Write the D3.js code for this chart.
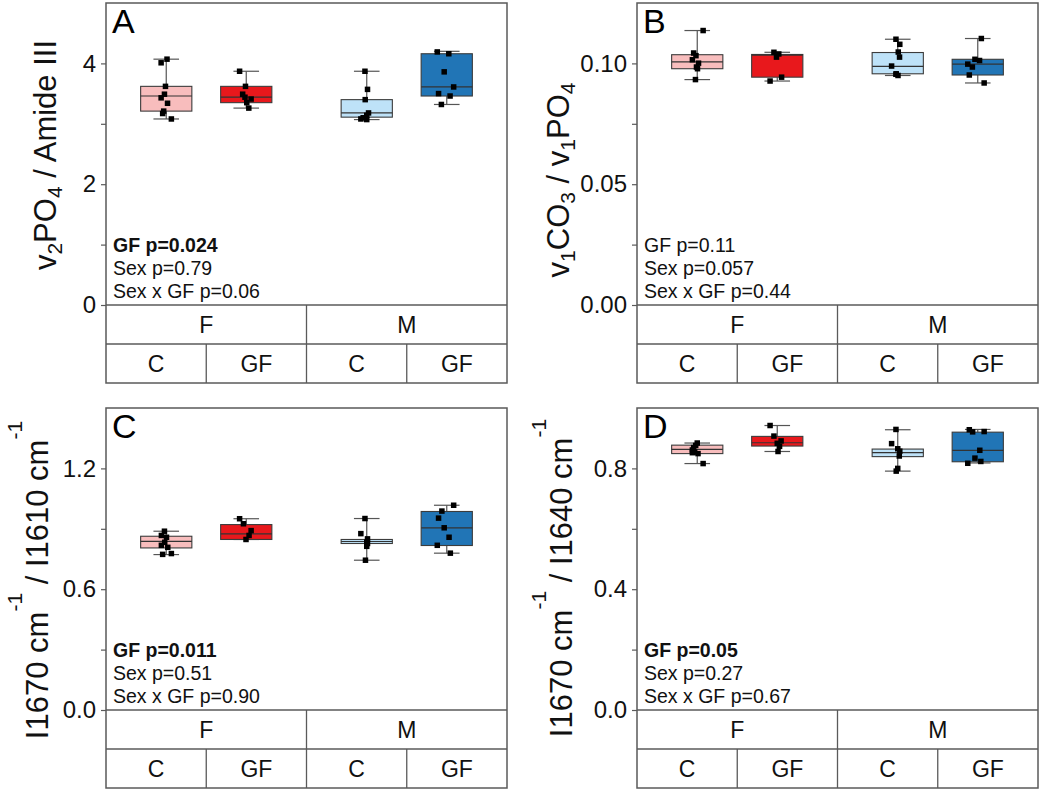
<!DOCTYPE html>
<html><head><meta charset="utf-8">
<script src="https://cdn.jsdelivr.net/npm/d3@7"></script>
<style>
html,body{margin:0;padding:0;background:#fff;}
svg{display:block;font-family:"Liberation Sans",Arial,sans-serif;}
</style></head>
<body><svg id="chart" width="1043" height="792"></svg>
<script>
// ---------- data ----------
const sexes = ["F", "M"];
const groups = ["C", "GF"];
const seriesKeys = ["F-C", "F-GF", "M-C", "M-GF"];
const seriesColors = ["#f8bdbd", "#e8181c", "#bee2f8", "#2175b6"];

// Panel A : v2PO4 / Amide III
const A_points = [
  [4.07, 4.01, 3.62, 3.49, 3.43, 3.34, 3.21, 3.17, 3.08],
  [3.87, 3.62, 3.49, 3.44, 3.41, 3.35, 3.26],
  [3.87, 3.57, 3.40, 3.18, 3.14, 3.10, 3.07, 3.08],
  [4.19, 4.16, 3.86, 3.61, 3.50, 3.46, 3.32]
];
const A_jitter = [
  [0.03, -0.2, -0.03, -0.07, -0.2, 0.05, -0.1, -0.14, 0.2],
  [-0.26, -0.03, -0.14, -0.05, 0.19, 0.02, 0.1],
  [-0.07, 0.03, -0.06, 0.07, 0, -0.14, 0, -0.23],
  [-0.37, 0.08, -0.1, 0.27, -0.32, 0.13, -0.21]
];
// [whisker low, q1, median, q3, whisker high]
const A_stats = [
  [3.08, 3.21, 3.46, 3.62, 4.07],
  [3.26, 3.35, 3.44, 3.62, 3.87],
  [3.07, 3.11, 3.18, 3.40, 3.87],
  [3.32, 3.46, 3.61, 4.16, 4.20]
];
const A_ticks = [0, 2, 4];
const A_minor = [1, 3];
const A_tickLabels = ["0", "2", "4"];
const A_domain = [0, 5];
const A_pvalues = ["GF p=0.024", "Sex p=0.79", "Sex x GF p=0.06"];
const A_bold = [true, false, false];

// Panel B : v1CO3 / v1PO4
const B_points = [
  [0.1136, 0.1043, 0.1032, 0.1015, 0.1001, 0.0985, 0.0978, 0.0933],
  [0.1046, 0.1039, 0.1026, 0.0943, 0.0927],
  [0.1100, 0.1079, 0.1047, 0.1026, 0.0989, 0.0957, 0.0955, 0.0950],
  [0.1103, 0.1017, 0.1012, 0.0997, 0.0985, 0.0952, 0.0919]
];
const B_jitter = [
  [0.23, -0.14, -0.05, -0.19, 0.05, -0.03, 0.01, -0.07],
  [-0.13, 0.06, -0.03, 0.17, -0.28],
  [-0.07, 0.08, 0.02, 0.07, -0.24, -0.06, -0.07, 0.01],
  [0.14, -0.11, 0.07, -0.39, -0.21, -0.33, 0.25]
];
const B_stats = [
  [0.0933, 0.0978, 0.1006, 0.1036, 0.1136],
  [0.0927, 0.0943, 0.1034, 0.1037, 0.1046],
  [0.0950, 0.0957, 0.0988, 0.1045, 0.1100],
  [0.0919, 0.0952, 0.0997, 0.1017, 0.1103]
];
const B_ticks = [0, 0.05, 0.10];
const B_minor = [0.025, 0.075];
const B_tickLabels = ["0.00", "0.05", "0.10"];
const B_domain = [0, 0.125];
const B_pvalues = ["GF p=0.11", "Sex p=0.057", "Sex x GF p=0.44"];
const B_bold = [false, false, false];

// Panel C : I1670 / I1610
const C_points = [
  [0.888, 0.867, 0.858, 0.833, 0.818, 0.808, 0.773, 0.777],
  [0.950, 0.925, 0.891, 0.867, 0.847],
  [0.951, 0.876, 0.850, 0.833, 0.827, 0.813, 0.744],
  [1.017, 0.988, 0.953, 0.905, 0.858, 0.818, 0.779]
];
const C_jitter = [
  [-0.07, -0.19, 0.01, -0.06, -0.19, 0.06, -0.14, 0.2],
  [-0.26, -0.11, 0.19, 0.11, -0.01],
  [-0.07, -0.23, 0.03, 0, 0.03, 0, -0.05],
  [0.27, -0.19, -0.32, -0.1, 0.09, -0.37, 0.14]
];
const C_stats = [
  [0.772, 0.805, 0.838, 0.863, 0.888],
  [0.847, 0.847, 0.875, 0.921, 0.950],
  [0.744, 0.827, 0.837, 0.847, 0.951],
  [0.779, 0.817, 0.905, 0.986, 1.017]
];
const C_ticks = [0, 0.6, 1.2];
const C_minor = [0.3, 0.9];
const C_tickLabels = ["0.0", "0.6", "1.2"];
const C_domain = [0, 1.5];
const C_pvalues = ["GF p=0.011", "Sex p=0.51", "Sex x GF p=0.90"];
const C_bold = [true, false, false];

// Panel D : I1670 / I1640
const D_points = [
  [0.884, 0.876, 0.869, 0.861, 0.854, 0.849, 0.852, 0.816],
  [0.942, 0.907, 0.891, 0.883, 0.873, 0.856],
  [0.929, 0.882, 0.865, 0.857, 0.841, 0.800, 0.791],
  [0.928, 0.921, 0.922, 0.860, 0.834, 0.823, 0.817]
];
const D_jitter = [
  [0, -0.06, -0.14, -0.19, -0.1, 0.03, -0.19, 0.23],
  [-0.28, -0.13, 0.15, 0, 0.09, 0.03],
  [-0.07, -0.24, 0, 0.08, 0.06, 0, -0.06],
  [-0.33, -0.2, 0.25, 0.08, -0.11, 0.12, -0.39]
];
const D_stats = [
  [0.816, 0.849, 0.863, 0.877, 0.884],
  [0.856, 0.874, 0.885, 0.906, 0.942],
  [0.791, 0.839, 0.852, 0.864, 0.928],
  [0.818, 0.822, 0.860, 0.920, 0.929]
];
const D_ticks = [0, 0.4, 0.8];
const D_minor = [0.2, 0.6];
const D_tickLabels = ["0.0", "0.4", "0.8"];
const D_domain = [0, 1.0];
const D_pvalues = ["GF p=0.05", "Sex p=0.27", "Sex x GF p=0.67"];
const D_bold = [true, false, false];

// y-axis titles: [text, kind] kind: n normal, sub, sup
const A_title = [["v","n"],["2","sub"],["PO","n"],["4","sub"],[" / Amide III","n"]];
const B_title = [["v","n"],["1","sub"],["CO","n"],["3","sub"],[" / v","n"],["1","sub"],["PO","n"],["4","sub"]];
const C_title = [["I1670  cm","n"],["-1","sup"],[" / I1610 cm","n"],["-1","sup"]];
const D_title = [["I1670 cm","n"],["-1","sup"],[" / I1640 cm","n"],["-1","sup"]];

const panels = [
  {id:"A", pts:A_points, jit:A_jitter, st:A_stats, ticks:A_ticks, minor:A_minor, tl:A_tickLabels, dom:A_domain, pv:A_pvalues, bold:A_bold, title:A_title},
  {id:"B", pts:B_points, jit:B_jitter, st:B_stats, ticks:B_ticks, minor:B_minor, tl:B_tickLabels, dom:B_domain, pv:B_pvalues, bold:B_bold, title:B_title},
  {id:"C", pts:C_points, jit:C_jitter, st:C_stats, ticks:C_ticks, minor:C_minor, tl:C_tickLabels, dom:C_domain, pv:C_pvalues, bold:C_bold, title:C_title},
  {id:"D", pts:D_points, jit:D_jitter, st:D_stats, ticks:D_ticks, minor:D_minor, tl:D_tickLabels, dom:D_domain, pv:D_pvalues, bold:D_bold, title:D_title}
];

// ---------- layout ----------
const lefts = [106, 637], tops = [3, 408];
const W = 401, plotH = 302, rowH = 39;
const titleLayout = {A:{x:56, y:155}, B:{x:569, y:180}, C:{x:48, y:580}, D:{x:572, y:578}};
const titleSize = 31;
const lineColor = "#5a5a5a";
const svg = d3.select("#chart");

panels.forEach((p, i) => {
  const x0 = lefts[i % 2], y0 = tops[Math.floor(i / 2)];
  const g = svg.append("g").attr("transform", `translate(${x0},${y0})`);
  const y = d3.scaleLinear().domain(p.dom).range([plotH, 0]);
  const xs = d3.scaleBand().domain(sexes).range([0, W]);
  const xc = d3.scaleBand().domain(groups).range([0, xs.bandwidth()]);
  const xg = d3.scalePoint().domain(groups).range([0, xs.bandwidth()]).padding(0.753);
  const step = xg.step();
  const boxW = step * 0.64, capW = boxW * 0.5;

  // frame
  const totalH = plotH + 2 * rowH;
  g.append("rect").attr("x", 0).attr("y", 0).attr("width", W).attr("height", totalH)
    .attr("fill", "none").attr("stroke", lineColor).attr("stroke-width", 1.5);
  g.append("line").attr("x1", 0).attr("x2", W).attr("y1", plotH).attr("y2", plotH)
    .attr("stroke", lineColor).attr("stroke-width", 1.3);
  g.append("line").attr("x1", 0).attr("x2", W).attr("y1", plotH + rowH).attr("y2", plotH + rowH)
    .attr("stroke", lineColor).attr("stroke-width", 1.3);
  g.append("line").attr("x1", xs("M")).attr("x2", xs("M")).attr("y1", plotH).attr("y2", totalH)
    .attr("stroke", lineColor).attr("stroke-width", 1.3);
  sexes.forEach(s => {
    const xx = xs(s) + xc("GF");
    g.append("line").attr("x1", xx).attr("x2", xx).attr("y1", plotH + rowH).attr("y2", totalH)
      .attr("stroke", lineColor).attr("stroke-width", 1.3);
  });

  // y axis
  const axis = d3.axisLeft(y).tickValues(p.ticks).tickSize(5).tickPadding(5)
    .tickFormat((d, k) => p.tl[k]);
  const ag = g.append("g").call(axis);
  ag.select(".domain").remove();
  ag.selectAll(".tick line").attr("stroke", lineColor).attr("stroke-width", 1.2);
  ag.selectAll(".tick text").attr("font-size", 24).attr("fill", "#111")
    .attr("font-family", '"Liberation Sans",Arial,sans-serif');
  const mg = g.append("g").call(d3.axisLeft(y).tickValues(p.minor).tickSize(5).tickFormat(""));
  mg.select(".domain").remove();
  mg.selectAll(".tick line").attr("stroke", lineColor).attr("stroke-width", 1.2);

  // category labels
  sexes.forEach(s => {
    g.append("text").attr("x", xs(s) + xs.bandwidth() / 2).attr("y", plotH + rowH / 2)
      .attr("dy", "0.36em").attr("text-anchor", "middle").attr("font-size", 23).attr("fill", "#111").text(s);
    groups.forEach(gr => {
      g.append("text").attr("x", xs(s) + xc(gr) + xc.bandwidth() / 2).attr("y", plotH + rowH * 1.5)
        .attr("dy", "0.36em").attr("text-anchor", "middle").attr("font-size", 23).attr("fill", "#111").text(gr);
    });
  });

  // boxes
  seriesKeys.forEach((key, k) => {
    const [sx, gr] = key.split("-");
    const cx = xs(sx) + xg(gr);
    const [wlo, q1, med, q3, whi] = p.st[k];
    const bg = g.append("g");
    bg.append("line").attr("x1", cx).attr("x2", cx).attr("y1", y(whi)).attr("y2", y(q3))
      .attr("stroke", "#555").attr("stroke-width", 1.2);
    bg.append("line").attr("x1", cx).attr("x2", cx).attr("y1", y(q1)).attr("y2", y(wlo))
      .attr("stroke", "#555").attr("stroke-width", 1.2);
    [whi, wlo].forEach(v => {
      bg.append("line").attr("x1", cx - capW / 2).attr("x2", cx + capW / 2).attr("y1", y(v)).attr("y2", y(v))
        .attr("stroke", "#555").attr("stroke-width", 1.2);
    });
    bg.append("rect").attr("x", cx - boxW / 2).attr("y", y(q3)).attr("width", boxW)
      .attr("height", Math.max(0.5, y(q1) - y(q3)))
      .attr("fill", seriesColors[k]).attr("stroke", "#3c3c3c").attr("stroke-width", 1.1);
    bg.append("line").attr("x1", cx - boxW / 2).attr("x2", cx + boxW / 2).attr("y1", y(med)).attr("y2", y(med))
      .attr("stroke", "#333").attr("stroke-width", 1.2);
    const sz = 5.5;
    bg.selectAll("rect.pt").data(p.pts[k]).enter().append("rect").attr("class", "pt")
      .attr("x", (v, j) => cx + p.jit[k][j] * boxW / 2 - sz / 2)
      .attr("y", v => y(v) - sz / 2)
      .attr("width", sz).attr("height", sz).attr("fill", "#000");
  });

  // panel letter
  g.append("text").attr("x", 6).attr("y", 30).attr("font-size", 34).attr("fill", "#000").text(p.id);

  // p-values
  p.pv.forEach((t, k) => {
    g.append("text").attr("x", 7).attr("y", 248.7 + k * 23.3).attr("font-size", 19.5)
      .attr("font-weight", p.bold[k] ? "bold" : "normal").attr("fill", "#111").text(t);
  });

  // y title
  const tl = titleLayout[p.id];
  const tt = svg.append("text").attr("transform", `translate(${tl.x},${tl.y}) rotate(-90)`)
    .attr("text-anchor", "middle").attr("font-size", titleSize).attr("fill", "#111");
  let shift = 0;
  p.title.forEach(([txt, kind]) => {
    let target = 0, fs = titleSize;
    if (kind === "sub") { target = 6; fs = 21; }
    if (kind === "sup") { target = -26; fs = 21; }
    tt.append("tspan").attr("dy", target - shift).attr("font-size", fs).text(txt);
    shift = target;
  });
});
</script></body></html>
